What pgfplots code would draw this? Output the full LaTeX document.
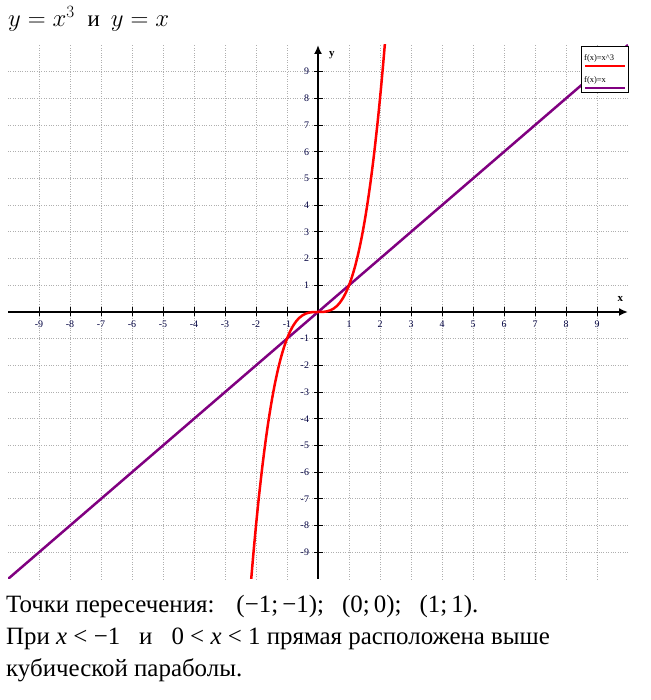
\documentclass[border=0pt]{standalone}
\usepackage{fontspec}
\setmainfont{Liberation Serif}
\usepackage{pgfplots}
\pgfplotsset{compat=1.18}
\usetikzlibrary{arrows.meta}
\definecolor{cubred}{RGB}{255,0,0}
\definecolor{linpurple}{RGB}{128,0,128}
\definecolor{gridgray}{RGB}{175,175,175}
\begin{document}
\begin{tikzpicture}[x=1bp,y=1bp]
\useasboundingbox (0,0) rectangle (651,700);
\begin{axis}[
  at={(8bp,121bp)}, anchor=south west,
  scale only axis, width=620bp, height=534bp,
  xmin=-10, xmax=10, ymin=-10, ymax=10,
  axis lines=middle,
  axis line style={line width=1.8bp, -{Latex[length=9bp,width=8bp]}},
  xtick={-9,-8,-7,-6,-5,-4,-3,-2,-1,1,2,3,4,5,6,7,8,9},
  ytick={-9,-8,-7,-6,-5,-4,-3,-2,-1,1,2,3,4,5,6,7,8,9},
  xticklabels={-9,-8,-7,-6,-5,-4,-3,-2,-1,1,2,3,4,5,6,7,8,9},
  yticklabels={-9,-8,-7,-6,-5,-4,-3,-2,-1,1,2,3,4,5,6,7,8,9},
  tick align=center, major tick length=9bp,
  tick style={black, line width=1bp},
  ticklabel style={font=\fontsize{10}{10}\selectfont, text=black!75!blue},
  xticklabel style={yshift=-1bp},
  yticklabel style={xshift=-1bp},
  grid=major,
  major grid style={gridgray, dotted, line width=0.9bp},
  xlabel={\textbf{x}}, ylabel={\textbf{y}},
  every axis x label/.style={at={(axis cs:9.75,0.5)}, anchor=center, font=\fontsize{11}{11}\selectfont},
  every axis y label/.style={at={(axis cs:0.45,9.6)}, anchor=center, font=\fontsize{11}{11}\selectfont},
  clip=true,
]
\addplot[linpurple, line width=2.5bp] coordinates {(-10,-10) (10,10)};
\addplot[cubred, line width=2.5bp, smooth] coordinates {
(-2.16,-10.078) (-2.1,-9.261) (-2.05,-8.615) (-2.0,-8) (-1.95,-7.415) (-1.9,-6.859) (-1.8,-5.832) (-1.7,-4.913) (-1.6,-4.096) (-1.5,-3.375) (-1.4,-2.744) (-1.3,-2.197) (-1.2,-1.728) (-1.1,-1.331) (-1.0,-1) (-0.9,-0.729) (-0.8,-0.512) (-0.7,-0.343) (-0.6,-0.216) (-0.5,-0.125) (-0.4,-0.064) (-0.3,-0.027) (-0.2,-0.008) (-0.1,-0.001) (0,0)
(0.1,0.001) (0.2,0.008) (0.3,0.027) (0.4,0.064) (0.5,0.125) (0.6,0.216) (0.7,0.343) (0.8,0.512) (0.9,0.729) (1.0,1) (1.1,1.331) (1.2,1.728) (1.3,2.197) (1.4,2.744) (1.5,3.375) (1.6,4.096) (1.7,4.913) (1.8,5.832) (1.9,6.859) (1.95,7.415) (2.0,8) (2.05,8.615) (2.1,9.261) (2.16,10.078)};
\end{axis}
% legend
\draw[black, line width=0.8bp, fill=white] (581,608) rectangle (628,654);
\node[anchor=base west, font=\fontsize{8.5}{8.5}\selectfont, inner sep=0pt] at (584,639) {f(x)=x\^{}3};
\draw[cubred, line width=2.5bp] (585,634) -- (625,634);
\node[anchor=base west, font=\fontsize{8.5}{8.5}\selectfont, inner sep=0pt] at (584,617) {f(x)=x};
\draw[linpurple, line width=2.5bp] (585,612) -- (625,612);
% title
\node[anchor=base west, inner sep=0pt, font=\fontsize{23}{26}\selectfont] at (8,673) {$y=x^3$\hspace{13bp}и\hspace{11bp}$y=x$};
% text
\node[anchor=base west, inner sep=0pt, font=\fontsize{25}{28}\selectfont] at (6,87) {Точки пересечения:\hspace{22bp}(−1;\,−1);\hspace{18bp}(0;\,0);\hspace{18bp}(1;\,1).};
\node[anchor=base west, inner sep=0pt, font=\fontsize{25}{28}\selectfont] at (6,55) {При {\itshape x} < −1\hspace{19bp}и\hspace{19bp}0 < {\itshape x} < 1 прямая расположена выше};
\node[anchor=base west, inner sep=0pt, font=\fontsize{25}{28}\selectfont] at (6,23) {кубической параболы.};
\end{tikzpicture}
\end{document}
